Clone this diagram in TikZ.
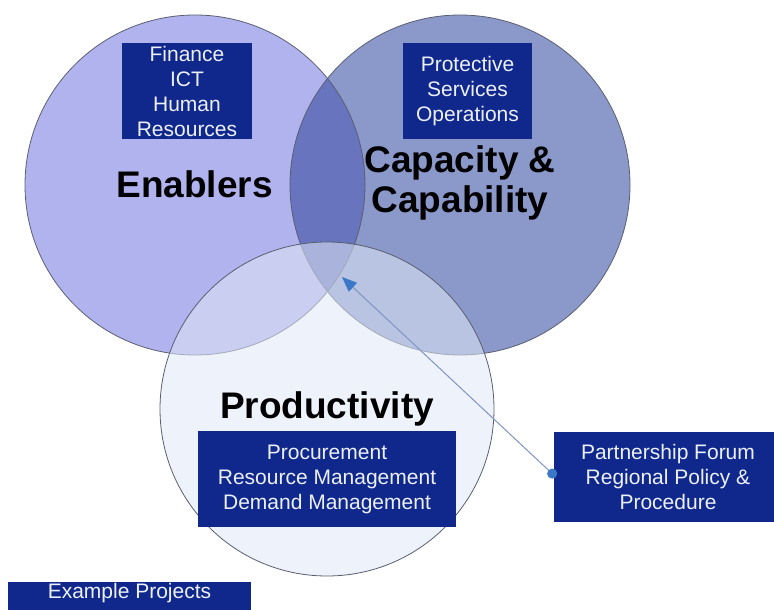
\documentclass[tikz,border=0pt]{standalone}
\usepackage{fontspec}
\setmainfont{Liberation Sans}
\usetikzlibrary{arrows.meta}
\definecolor{enabfill}{RGB}{176,179,238}
\definecolor{capfill}{RGB}{139,152,202}
\definecolor{bothfill}{RGB}{104,116,190}
\definecolor{prodfill}{RGB}{224,231,246}
\definecolor{ringline}{RGB}{90,95,112}
\definecolor{boxblue}{RGB}{16,40,140}
\definecolor{boxtext}{RGB}{236,240,250}
\definecolor{linkline}{RGB}{128,148,196}
\definecolor{linktip}{RGB}{60,120,200}
\begin{document}
\begin{tikzpicture}[x=1pt,y=-1pt,
  ring/.style={circle, minimum size=#1, inner sep=0pt},
  outline/.style={draw=ringline, line width=0.8pt},
  title/.style={font=\fontsize{37}{40}\selectfont\bfseries, align=center, text=black},
  itembox/.style={fill=boxblue, text=boxtext, font=\fontsize{21}{25}\selectfont,
    align=center, inner sep=0pt},
  link/.style={draw=linkline, line width=1pt,
    {Circle[length=10pt, color=linktip]}-{Triangle[length=15pt, width=12pt, color=linktip]}}
]
\useasboundingbox (0,0) rectangle (774,610);

% the two upper circles
\node[ring=340pt, fill=enabfill] (en) at (195,185) {};
\node[ring=340pt, fill=capfill] (cap) at (460,185) {};
\begin{scope}
  \clip (en.center) circle[radius=170pt];
  \fill[bothfill] (cap.center) circle[radius=170pt];
\end{scope}
\draw[outline] (en.center) circle[radius=170pt];
\draw[outline] (cap.center) circle[radius=170pt];

% translucent lower circle
\node[ring=334pt, fill=prodfill, fill opacity=0.55, outline] (prod) at (327,409) {};

% circle titles
\node[title, anchor=base] (entitle) at (194.5,197) {Enablers};
\node[title] (captitle) at (460,183) {Capacity \&\\Capability};
\node[title, anchor=base] (prodtitle) at (327,418) {Productivity};

% project boxes
\node[itembox, minimum width=130pt, minimum height=96pt] (fin) at (187,91)
  {Finance\\ICT\\Human\\Resources};
\node[itembox, minimum width=129pt, minimum height=96pt] (ops) at (467.5,91)
  {Protective\\Services\\Operations};
\node[itembox, minimum width=258pt, minimum height=96pt] (prd) at (327,479)
  {Procurement\\Resource Management\\Demand Management};
\node[itembox, minimum width=228pt, minimum height=90pt] (pf) at (668,477)
  {Partnership Forum\\Regional Policy \&\\Procedure};
\node[itembox, anchor=base, minimum width=243pt, text height=15pt, text depth=24pt,
  inner ysep=1pt] (ex) at (129.5,598) {Example Projects};

% link from the partnership box into the centre
\coordinate (hub) at (342,277);
\draw[link] ([xshift=2pt]pf.west) -- (hub);
\end{tikzpicture}
\end{document}
